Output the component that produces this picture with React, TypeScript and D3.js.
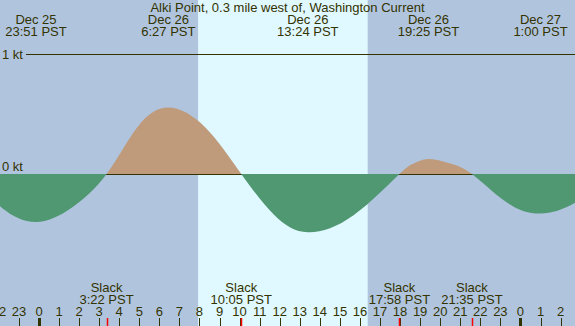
import * as d3 from "d3";
import { useEffect, useRef } from "react";

// hours relative to Dec 26 00:00 PST, current speed in knots (flood +, ebb -)
const eventHours = [
  -3.54, -1.845, -0.15, 1.61, 3.367, 4.91, 6.45, 8.27, 10.083, 11.74, 13.4, 15.68, 17.967, 18.69,
  19.417, 20.5, 21.583, 23.29, 25, 26.785, 28.57,
];
const eventKnots = [
  0, -0.283, -0.4, -0.283, 0, 0.392, 0.555, 0.392, 0, -0.343, -0.485, -0.343, 0, 0.088, 0.125, 0.088,
  0, -0.233, -0.33, -0.233, 0,
];

const extremeHours = [-0.15, 6.45, 13.4, 19.417, 25];
const extremeDates = ["Dec 25", "Dec 26", "Dec 26", "Dec 26", "Dec 27"];
const extremeTimes = ["23:51 PST", "6:27 PST", "13:24 PST", "19:25 PST", "1:00 PST"];

const slackHours = [3.367, 10.083, 17.967, 21.583];
const slackTimes = ["3:22 PST", "10:05 PST", "17:58 PST", "21:35 PST"];

const sunrise = 7.93;
const sunset = 16.385;
const hourTicks = d3.range(-2, 27);
const knotTicks = [0, 1];
const title = "Alki Point, 0.3 mile west of, Washington Current";

const W = 575;
const H = 326;
const INK = "#333300";

export default function App() {
  const svgRef = useRef<SVGSVGElement>(null);

  useEffect(() => {
    const svg = d3.select(svgRef.current);
    svg.selectAll("*").remove();
    svg.attr("width", W).attr("height", H);

    const x = d3.scaleLinear().domain([0, 24]).range([39, 39 + 24 * 20.06]);
    const y = d3.scaleLinear().domain([0, 1]).range([174, 54]);
    const font = "'Liberation Sans', Arial, sans-serif";

    // night / day background
    svg.append("rect").attr("width", W).attr("height", H).attr("fill", "#b0c4de");
    svg
      .append("rect")
      .attr("x", x(sunrise))
      .attr("width", x(sunset) - x(sunrise))
      .attr("height", H)
      .attr("fill", "#e0f8ff");

    const defs = svg.append("defs");
    defs.append("clipPath").attr("id", "flood").append("rect").attr("width", W).attr("height", y(0));
    defs
      .append("clipPath")
      .attr("id", "ebb")
      .append("rect")
      .attr("y", y(0))
      .attr("width", W)
      .attr("height", H - y(0));

    const pts = eventHours.map((h, i) => [h, eventKnots[i]] as [number, number]);
    const area = d3
      .area<[number, number]>()
      .x((d) => x(d[0]))
      .y0(y(0))
      .y1((d) => y(d[1]))
      .curve(d3.curveNatural);

    // axis labels and lines
    knotTicks.forEach((k) => {
      svg
        .append("line")
        .attr("x1", 26)
        .attr("x2", W)
        .attr("y1", y(k) + 0.5)
        .attr("y2", y(k) + 0.5)
        .attr("stroke", INK);
      svg
        .append("text")
        .attr("x", 2)
        .attr("y", k === 0 ? y(k) - 3 : y(k) + 5)
        .attr("font-family", font)
        .attr("font-size", 13)
        .attr("fill", INK)
        .text(`${k} kt`);
    });

    svg.append("path").attr("d", area(pts)).attr("fill", "#bf9b7b").attr("clip-path", "url(#flood)");
    svg.append("path").attr("d", area(pts)).attr("fill", "#509872").attr("clip-path", "url(#ebb)");

    const txt = (tx: number, ty: number, s: string) =>
      svg
        .append("text")
        .attr("x", tx)
        .attr("y", ty)
        .attr("text-anchor", "middle")
        .attr("font-family", font)
        .attr("font-size", 13)
        .attr("fill", INK)
        .text(s);

    txt(W / 2, 12, title);
    extremeHours.forEach((h, i) => {
      txt(x(h), 24, extremeDates[i]);
      txt(x(h), 36, extremeTimes[i]);
    });
    slackHours.forEach((h, i) => {
      txt(x(h), 292, "Slack");
      txt(x(h), 304, slackTimes[i]);
    });

    // hour ticks
    hourTicks.forEach((h) => {
      const hh = ((h % 24) + 24) % 24;
      txt(x(h), 316, String(hh));
      svg
        .append("line")
        .attr("x1", Math.round(x(h)) + 0.5)
        .attr("x2", Math.round(x(h)) + 0.5)
        .attr("y1", 318)
        .attr("y2", H)
        .attr("stroke", INK)
        .attr("stroke-width", hh === 0 ? 3 : 1);
    });
    slackHours.forEach((h) => {
      svg
        .append("line")
        .attr("x1", Math.round(x(h)) + 0.5)
        .attr("x2", Math.round(x(h)) + 0.5)
        .attr("y1", 318)
        .attr("y2", H)
        .attr("stroke", "#ff0000")
        .attr("stroke-width", 1.5);
    });
  }, []);

  return <svg ref={svgRef} style={{ position: "absolute", left: 0, top: 0 }} />;
}
